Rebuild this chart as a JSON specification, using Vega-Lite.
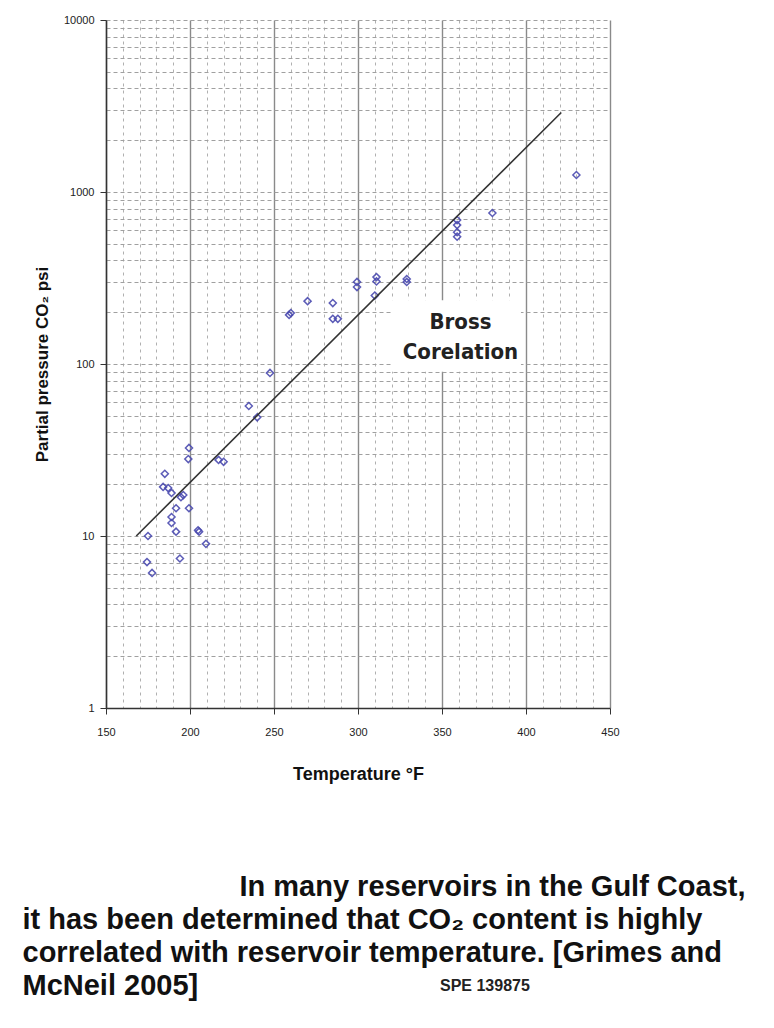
{
  "$schema": "https://vega.github.io/schema/vega-lite/v6.json",
  "width": 504,
  "height": 688,
  "autosize": {"type": "none"},
  "padding": {"left": 106, "top": 20, "right": 164, "bottom": 320},
  "background": "white",
  "config": {"view": {"stroke": null}, "font": "Liberation Sans"},
  "title": {
    "text": "SPE 139875",
    "orient": "bottom",
    "anchor": "start",
    "frame": "group",
    "dx": 334,
    "offset": -22,
    "font": "Liberation Sans",
    "fontSize": 16,
    "fontWeight": "bold",
    "color": "#222222"
  },
  "resolve": {"scale": {"x": "independent", "y": "independent"}, "axis": {"x": "independent", "y": "independent"}},
  "layer": [
    {
      "layer": [
        {
          "data": {"values": [{"t1": 320, "t2": 397, "p1": 90, "p2": 235}]},
          "mark": {"type": "rect", "fill": "white"},
          "encoding": {
            "x": {"field": "t1", "type": "quantitative"},
            "x2": {"field": "t2"},
            "y": {"field": "p1", "type": "quantitative"},
            "y2": {"field": "p2"}
          }
        },
        {
          "data": {"values": [
            {"t": 235, "p": 57}, {"t": 199.4, "p": 32.5}, {"t": 199, "p": 28}, {"t": 217, "p": 27.7},
            {"t": 220, "p": 27}, {"t": 185, "p": 23}, {"t": 184, "p": 19.3}, {"t": 187, "p": 19},
            {"t": 189, "p": 17.8}, {"t": 194.6, "p": 16.8}, {"t": 196, "p": 17.3}, {"t": 199.4, "p": 14.5},
            {"t": 191.7, "p": 14.5}, {"t": 189, "p": 12.9}, {"t": 189, "p": 11.9}, {"t": 191.7, "p": 10.6},
            {"t": 204.8, "p": 10.8}, {"t": 205.4, "p": 10.6}, {"t": 209.5, "p": 9.0}, {"t": 175, "p": 10},
            {"t": 174.4, "p": 7.05}, {"t": 177.4, "p": 6.1}, {"t": 194, "p": 7.4}, {"t": 240, "p": 49},
            {"t": 247.6, "p": 88.7}, {"t": 259, "p": 193}, {"t": 260, "p": 198}, {"t": 270, "p": 232},
            {"t": 285, "p": 226}, {"t": 285, "p": 183}, {"t": 288, "p": 183}, {"t": 299.4, "p": 300},
            {"t": 299.4, "p": 280}, {"t": 310, "p": 250}, {"t": 311, "p": 320}, {"t": 311, "p": 302},
            {"t": 329, "p": 312}, {"t": 329, "p": 300}, {"t": 359, "p": 687}, {"t": 359, "p": 642},
            {"t": 359, "p": 584}, {"t": 359, "p": 550}, {"t": 380, "p": 755}, {"t": 430, "p": 1256}
          ]},
          "mark": {"type": "point", "shape": "diamond", "filled": false, "stroke": "#4b4bb0", "strokeWidth": 1.5, "size": 50, "opacity": 0.9},
          "encoding": {
            "x": {
              "field": "t",
              "type": "quantitative",
              "scale": {"domain": [150, 450], "nice": false, "zero": false},
              "axis": {
                "values": [150,160,170,180,190,200,210,220,230,240,250,260,270,280,290,300,310,320,330,340,350,360,370,380,390,400,410,420,430,440,450],
                "tickCount": 100,
                "labelExpr": "datum.value % 50 === 0 ? datum.label : ''",
                "labelOverlap": false,
                "title": "Temperature °F",
                "titleFont": "Liberation Sans",
                "titleFontSize": 18,
                "titleFontWeight": "bold",
                "titleColor": "#111111",
                "titlePadding": 28,
                "grid": true,
                "gridDash": {"condition": {"test": "datum.value % 50 === 0", "value": []}, "value": [3, 4]},
                "gridColor": {"condition": {"test": "datum.value % 50 === 0", "value": "#8a8a8a"}, "value": "#b0b0b0"},
                "gridWidth": {"condition": {"test": "datum.value % 50 === 0", "value": 1.4}, "value": 1},
                "tickSize": {"condition": {"test": "datum.value % 50 === 0", "value": 6}, "value": 0},
                "tickColor": "#333333",
                "domainColor": "#333333",
                "domainWidth": 1.5,
                "labelFontSize": 11,
                "labelColor": "#222222",
                "labelPadding": 12,
                "labelFlush": false
              }
            },
            "y": {
              "field": "p",
              "type": "quantitative",
              "scale": {"type": "log", "domain": [1, 10000], "nice": false},
              "axis": {
                "values": [1,2,3,4,5,6,7,8,9,10,20,30,40,50,60,70,80,90,100,200,300,400,500,600,700,800,900,1000,2000,3000,4000,5000,6000,7000,8000,9000,10000],
                "tickCount": 100,
                "labelOverlap": false,
                "labelExpr": "indexof([1,10,100,1000,10000], datum.value) >= 0 ? datum.label : ''",
                "format": "d",
                "title": "Partial pressure CO₂ psi",
                "titleFont": "Liberation Sans",
                "titleFontSize": 17,
                "titleFontWeight": "bold",
                "titleColor": "#111111",
                "titlePadding": 12,
                "grid": true,
                "gridDash": [4, 3],
                "gridColor": "#a0a0a0",
                "gridWidth": 1,
                "tickSize": {"condition": {"test": "indexof([1,10,100,1000,10000], datum.value) >= 0", "value": 6}, "value": 0},
                "tickColor": "#333333",
                "domainColor": "#333333",
                "domainWidth": 1.5,
                "labelFontSize": 11,
                "labelColor": "#222222",
                "labelPadding": 6
              }
            }
          }
        },
        {
          "data": {"values": [{"t": 361, "p": 175, "label": "Bross\nCorelation"}]},
          "mark": {"type": "text", "font": "Liberation Sans Narrow, DejaVu Sans Condensed, Liberation Sans", "fontSize": 22, "fontWeight": "bold", "color": "#222222", "lineBreak": "\n", "lineHeight": 30, "baseline": "middle"},
          "encoding": {
            "x": {"field": "t", "type": "quantitative"},
            "y": {"field": "p", "type": "quantitative"},
            "text": {"field": "label"}
          }
        }
      ]
    },
    {
      "data": {"values": [{"t": 168, "p": 10}, {"t": 421, "p": 2900}]},
      "mark": {"type": "line", "color": "#333333", "strokeWidth": 1.6},
      "encoding": {
        "x": {
          "field": "t",
          "type": "quantitative",
          "scale": {"domain": [150, 450], "nice": false, "zero": false},
          "axis": {
            "orient": "top",
            "labels": false,
            "ticks": false,
            "domain": false,
            "grid": false,
            "title": [
              "it has been determined that CO₂ content is highly",
              "correlated with reservoir temperature. [Grimes and",
              "McNeil 2005]"
            ],
            "titleFont": "Liberation Sans",
            "titleFontSize": 29,
            "titleFontWeight": "bold",
            "titleColor": "#111111",
            "titleAngle": 0,
            "titleAlign": "left",
            "titleBaseline": "top",
            "titleLineHeight": 33,
            "titleX": -84,
            "titleY": 885
          }
        },
        "y": {
          "field": "p",
          "type": "quantitative",
          "scale": {"type": "log", "domain": [1, 10000], "nice": false},
          "axis": {
            "orient": "right",
            "labels": false,
            "ticks": false,
            "domain": false,
            "grid": false,
            "title": "In many reservoirs in the Gulf Coast,",
            "titleFont": "Liberation Sans",
            "titleFontSize": 29,
            "titleFontWeight": "bold",
            "titleColor": "#111111",
            "titleAngle": 0,
            "titleAlign": "right",
            "titleBaseline": "top",
            "titleX": 135,
            "titleY": 852
          }
        }
      }
    }
  ]
}
